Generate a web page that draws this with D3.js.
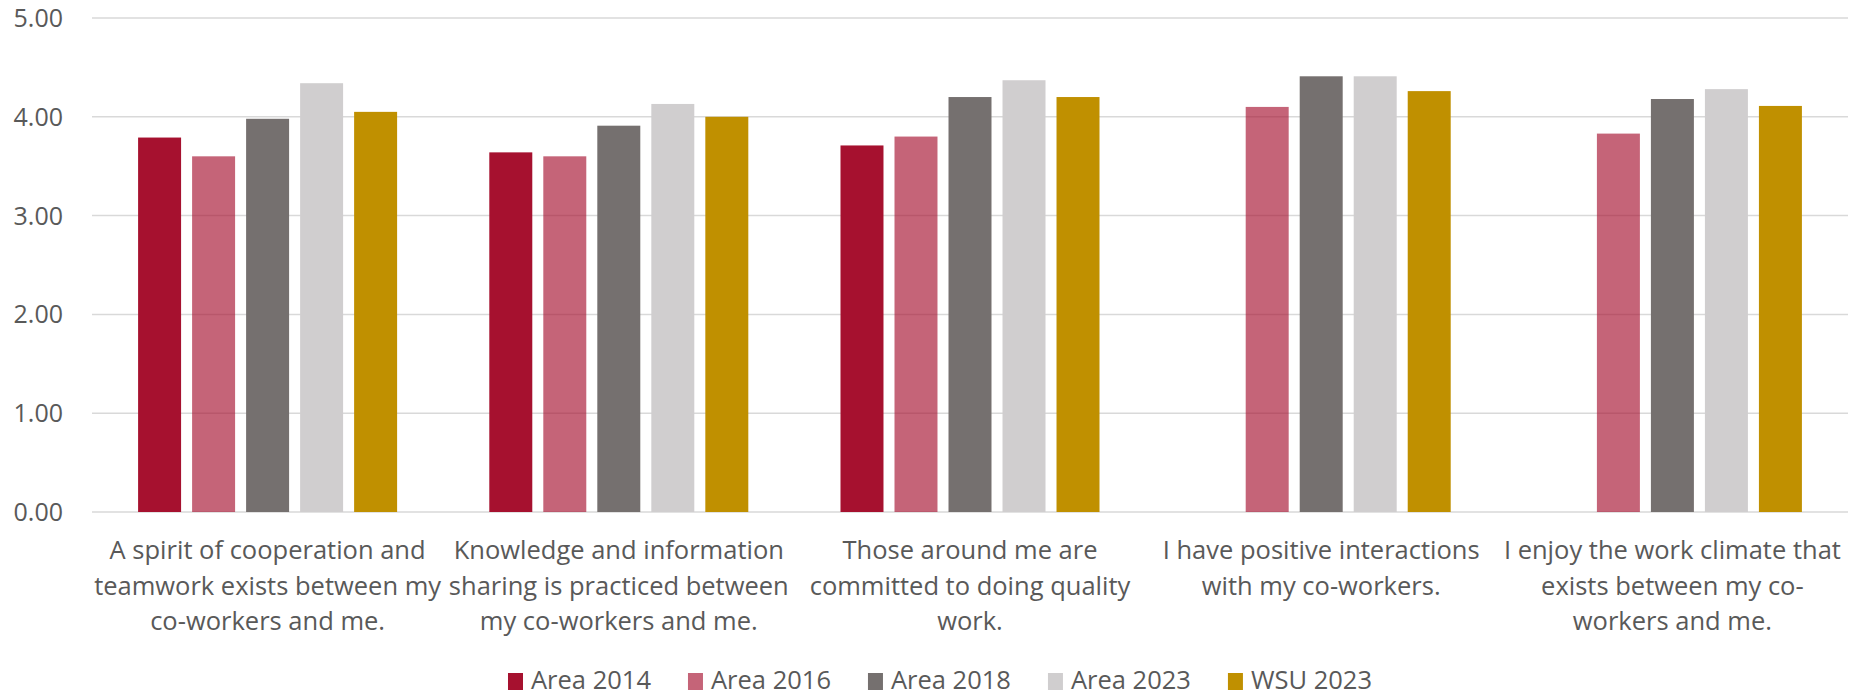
<!DOCTYPE html>
<html>
<head>
<meta charset="utf-8">
<script src="https://cdn.jsdelivr.net/npm/d3@7"></script>
<style>
	body { margin: 0; background: #fff; }
	svg text { font-family: "Open Sans", sans-serif; fill: #595959; }
</style>
</head>
<body>
<div id="chart"></div>
<script>
// category labels, wrapped the way the original chart wraps them
const categories = [
	["A spirit of cooperation and", "teamwork exists between my", "co-workers and me."],
	["Knowledge and information", "sharing is practiced between", "my co-workers and me."],
	["Those around me are", "committed to doing quality", "work."],
	["I have positive interactions", "with my co-workers."],
	["I enjoy the work climate that", "exists between my co-", "workers and me."],
]
const seriesNames = ["Area 2014", "Area 2016", "Area 2018", "Area 2023", "WSU 2023"]
const area2014 = [3.79, 3.64, 3.71, null, null]
const area2016 = [3.60, 3.60, 3.80, 4.10, 3.83]
const area2018 = [3.98, 3.91, 4.20, 4.41, 4.18]
const area2023 = [4.34, 4.13, 4.37, 4.41, 4.28]
const wsu2023 = [4.05, 4.00, 4.20, 4.26, 4.11]
const yTicks = [0, 1, 2, 3, 4, 5]

const seriesValues = [area2014, area2016, area2018, area2023, wsu2023]
const colors = ["#a6112f", "rgba(166,17,47,0.65)", "#75706f", "#d0cecf", "#c09000"]

const width = 1866
const height = 694
const plot = { left: 92, right: 1848, top: 18, bottom: 512 }

const svg = d3
	.select("#chart")
	.append("svg")
	.attr("width", width)
	.attr("height", height)

const catKeys = categories.map((d, i) => i)

const x0 = d3
	.scaleBand()
	.domain(catKeys)
	.range([plot.left, plot.right])
	.paddingInner(0.2625)
	.paddingOuter(0.13125)

const x1 = d3
	.scaleBand()
	.domain(seriesNames)
	.range([0, x0.bandwidth()])
	.paddingInner(0.204)

const y = d3.scaleLinear().domain([0, 5]).range([plot.bottom, plot.top])

// gridlines
svg.append("g")
	.selectAll("line")
	.data(yTicks)
	.join("line")
	.attr("x1", plot.left)
	.attr("x2", plot.right)
	.attr("y1", (d) => y(d))
	.attr("y2", (d) => y(d))
	.attr("stroke", "#d9d9d9")
	.attr("stroke-width", 1.5)

// y labels
svg.append("g")
	.selectAll("text")
	.data(yTicks)
	.join("text")
	.attr("x", 63)
	.attr("y", (d) => y(d) + 9)
	.attr("text-anchor", "end")
	.style("font-size", "25px")
	.text((d) => d3.format(".2f")(d))

// bars
const rows = []
seriesNames.forEach((name, s) => {
	seriesValues[s].forEach((v, c) => {
		if (v != null) rows.push({ series: name, cat: c, value: v, color: colors[s] })
	})
})

svg.append("g")
	.selectAll("rect")
	.data(rows)
	.join("rect")
	.attr("x", (d) => x0(d.cat) + x1(d.series))
	.attr("y", (d) => y(d.value))
	.attr("width", x1.bandwidth())
	.attr("height", (d) => y(0) - y(d.value))
	.attr("fill", (d) => d.color)

// category labels
const catLabels = svg.append("g")
categories.forEach((lines, i) => {
	const t = catLabels
		.append("text")
		.attr("text-anchor", "middle")
		.style("font-size", "25.5px")
	lines.forEach((line, j) => {
		t.append("tspan")
			.attr("x", x0(i) + x0.bandwidth() / 2)
			.attr("y", 559 + j * 35.5)
			.text(line)
	})
})

// legend
const legend = svg.append("g")
let lx = 0
seriesNames.forEach((name, i) => {
	const item = legend.append("g").attr("transform", `translate(${lx},0)`)
	item.append("rect")
		.attr("x", 0)
		.attr("y", 673)
		.attr("width", 15)
		.attr("height", 17)
		.attr("fill", colors[i])
	const label = item
		.append("text")
		.attr("x", 23)
		.attr("y", 689)
		.style("font-size", "25.5px")
		.text(name)
	lx += 23 + label.node().getComputedTextLength() + 37
})
const legendWidth = lx - 37
legend.attr("transform", `translate(${940 - legendWidth / 2},0)`)
</script>
</body>
</html>
